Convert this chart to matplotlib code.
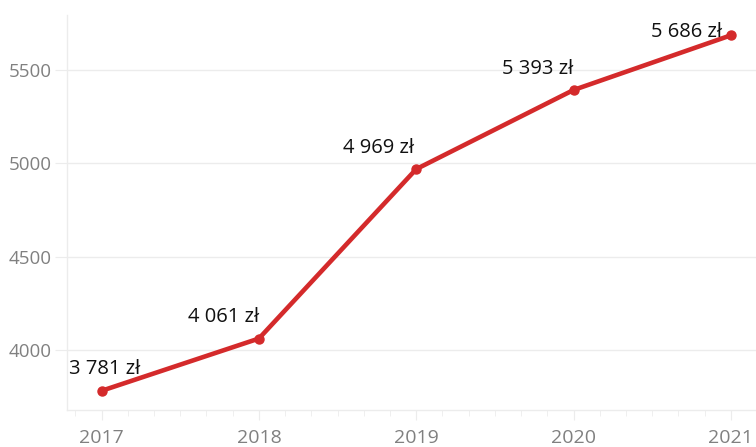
import matplotlib
matplotlib.use("Agg")
import matplotlib.pyplot as plt
from matplotlib.ticker import MultipleLocator

plt.rcParams['font.family'] = ['Open Sans', 'DejaVu Sans']

# Average salary by year
years = [2017, 2018, 2019, 2020, 2021]
salary = [3781, 4061, 4969, 5393, 5686]
labels = ['3 781 zł', '4 061 zł', '4 969 zł', '5 393 zł', '5 686 zł']

# label placement relative to each point (pixels)
label_pos = [(3, 22, 'center'), (0, 22, 'right'), (-2, 21, 'right'),
             (0, 21, 'right'), (-9, 3, 'right')]

RED = '#d42a2b'
GRID = '#ececec'
TICK = '#808080'

fig = plt.figure(figsize=(7.56, 4.47), dpi=100)
ax = fig.add_axes([67 / 756, 37 / 447, 689 / 756, 395 / 447])

ax.plot(years, salary, color=RED, linewidth=3.3, marker='o', markersize=6.5,
        solid_capstyle='round', zorder=3)

for x, y, txt, (dx, dy, ha) in zip(years, salary, labels, label_pos):
    ax.annotate(txt, (x, y), xytext=(dx, dy), textcoords='offset pixels',
                ha=ha, va='center', fontsize=14.5, color='#111111')

ax.set_xlim(2016.78, 2021.16)
ax.set_ylim(3678, 5795)
ax.set_xticks(years)
ax.xaxis.set_minor_locator(MultipleLocator(1 / 6))
ax.set_yticks([4000, 4500, 5000, 5500])

ax.grid(axis='y', color=GRID, linewidth=1)
ax.set_axisbelow(True)
for side in ['top', 'right']:
    ax.spines[side].set_visible(False)
for side in ['left', 'bottom']:
    ax.spines[side].set_color(GRID)
    ax.spines[side].set_linewidth(1)

ax.tick_params(axis='y', length=9, color=GRID, labelcolor=TICK, labelsize=13.5, pad=2)
ax.tick_params(axis='x', which='major', length=7, color=GRID, labelcolor=TICK,
               labelsize=14, pad=7)
ax.tick_params(axis='x', which='minor', length=4, color=GRID)

fig.savefig('out.png', dpi=100)
